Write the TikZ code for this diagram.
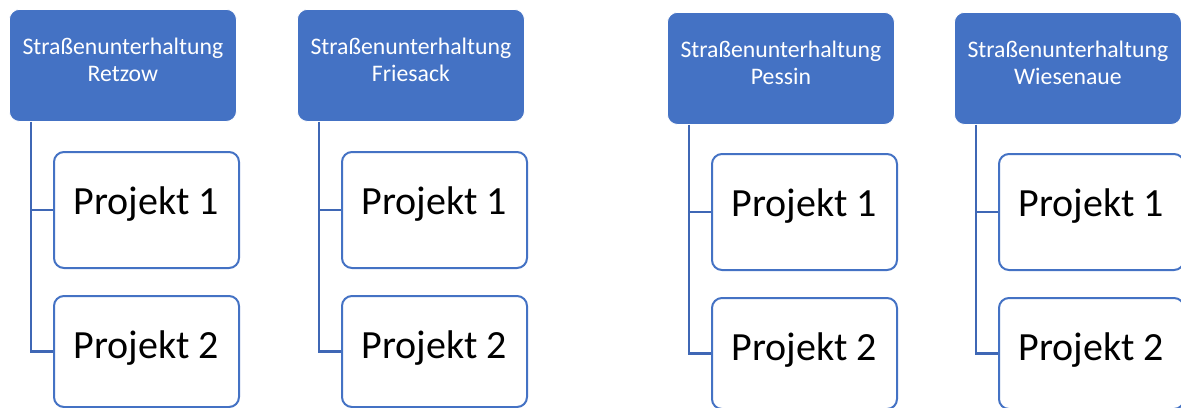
\documentclass[tikz,border=0pt]{standalone}
\usepackage{fontspec}
\setmainfont{Carlito}
\definecolor{unitblue}{HTML}{4472C4}
\definecolor{linkblue}{HTML}{3F67B5}
\tikzset{
  unit/.style={anchor=north west, rectangle, rounded corners=7.5pt, fill=unitblue, draw=white, line width=0.6pt,
    text=white, minimum width=170.25pt, minimum height=84pt, align=center,
    font=\fontsize{17.8}{20.25}\selectfont, execute at end node={\rule[-9pt]{0pt}{9pt}}},
  proj/.style={anchor=north west, rectangle, rounded corners=7.5pt, draw=unitblue, fill=white, line width=1.5pt,
    minimum width=138.75pt, minimum height=87pt, font=\fontsize{30}{36}\selectfont, text height=20pt, text depth=14pt},
  projlast/.style={proj, minimum height=83.25pt, text depth=10pt},
  link/.style={draw=linkblue, line width=1.7pt}
}
\begin{document}
\begin{tikzpicture}[x=0.75pt, y=-0.75pt]
\useasboundingbox (0,0) rectangle (1181,407);
\clip (0,0) rectangle (1181,407);
% Retzow
\node[unit] (ret) at (9,9) {Straßenunterhaltung\\Retzow};
\node[proj] (ret1) at (53,151) {Projekt 1};
\node[projlast] (ret2) at (53,295) {Projekt 2};
\draw[link] ([xshift=16.5pt]ret.south west) |- (ret1.west);
\draw[link] ([xshift=16.5pt]ret.south west) |- (ret2.west);
% Friesack
\node[unit] (fri) at (297,9) {Straßenunterhaltung\\Friesack};
\node[proj] (fri1) at (341,151) {Projekt 1};
\node[projlast] (fri2) at (341,295) {Projekt 2};
\draw[link] ([xshift=16.5pt]fri.south west) |- (fri1.west);
\draw[link] ([xshift=16.5pt]fri.south west) |- (fri2.west);
% Pessin
\node[unit] (pes) at (667,12) {Straßenunterhaltung\\Pessin};
\node[proj] (pes1) at (711,153) {Projekt 1};
\node[projlast] (pes2) at (711,297) {Projekt 2};
\draw[link] ([xshift=16.5pt]pes.south west) |- (pes1.west);
\draw[link] ([xshift=16.5pt]pes.south west) |- (pes2.west);
% Wiesenaue
\node[unit] (wie) at (954,12) {Straßenunterhaltung\\Wiesenaue};
\node[proj] (wie1) at (998,153) {Projekt 1};
\node[projlast] (wie2) at (998,297) {Projekt 2};
\draw[link] ([xshift=16.5pt]wie.south west) |- (wie1.west);
\draw[link] ([xshift=16.5pt]wie.south west) |- (wie2.west);
\end{tikzpicture}
\end{document}
